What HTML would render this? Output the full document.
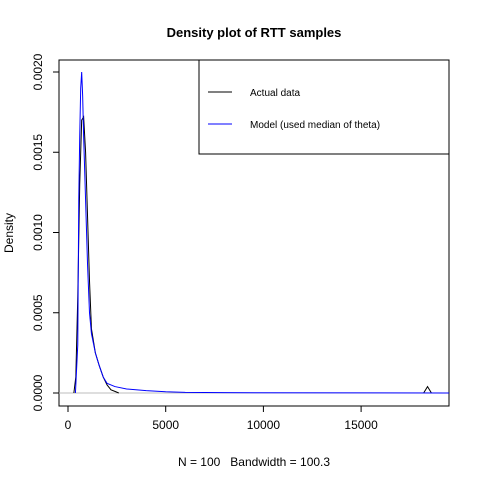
<!DOCTYPE html>
<html><head><meta charset="utf-8"><style>
body{margin:0;background:#fff}
svg{display:block;font-family:"Liberation Sans",Arial,sans-serif}
</style></head><body>
<svg id="chart" width="480" height="480" viewBox="0 0 480 480">
<text x="254" y="37" text-anchor="middle" font-size="13" font-weight="bold">Density plot of RTT samples</text>
<rect x="59" y="60" width="390" height="346" fill="none" stroke="#000"/>
<g id="xaxis"></g>
<g id="yaxis"></g>
<line x1="59" x2="449" id="zero" stroke="#bebebe"/>
<g id="series"></g>
<text x="254" y="466" text-anchor="middle" font-size="12" style="white-space:pre">N = 100   Bandwidth = 100.3</text>
<text transform="translate(13,233) rotate(-90)" text-anchor="middle" font-size="12">Density</text>
<g>
<rect x="199" y="60" width="250" height="94" fill="#fff" stroke="#000"/>
<line x1="208" x2="232" y1="92" y2="92" stroke="#000"/>
<text x="250" y="96" font-size="10">Actual data</text>
<line x1="208" x2="232" y1="124" y2="124" stroke="#00f"/>
<text x="250" y="128" font-size="10">Model (used median of theta)</text>
</g>
</svg>
<script>
const xTicks=[0,5000,10000,15000];
const xTickLabels=["0","5000","10000","15000"];
const yTicks=[0,0.0005,0.001,0.0015,0.002];
const yTickLabels=["0.0000","0.0005","0.0010","0.0015","0.0020"];
const actualX=[300,400,500,600,700,800,900,1000,1100,1200,1400,1600,1800,2000,2200,2400,2600,18200,18400,18600];
const actualY=[0,0.0001,0.0006,0.0013,0.0017,0.00172,0.0015,0.0011,0.0007,0.0004,0.00025,0.00017,0.0001,0.00005,0.00002,0.00001,0,0,0.00004,0];
const modelX=[380,500,550,600,650,700,750,800,900,1000,1100,1200,1400,1600,1800,2000,2400,3000,4000,5000,6000,8000,19500];
const modelY=[0,0.0003,0.0012,0.0016,0.0019,0.002,0.00185,0.0016,0.0012,0.0008,0.0005,0.00037,0.00025,0.00017,0.0001,0.00006,0.00004,0.000025,0.000015,0.000008,0.000004,0.000002,0];
const NS="http://www.w3.org/2000/svg";
const sx=v=>68+v*0.01954;
const sy=v=>393-v*160500;
function mk(t,a,p){const e=document.createElementNS(NS,t);for(const k in a)e.setAttribute(k,a[k]);p.appendChild(e);return e;}
const xa=document.getElementById('xaxis'),ya=document.getElementById('yaxis');
mk('line',{x1:sx(xTicks[0]),x2:sx(xTicks[xTicks.length-1]),y1:406,y2:406,stroke:'#000'},xa);
xTicks.forEach((v,i)=>{
 const t=mk('line',{x1:sx(v),x2:sx(v),y1:406,y2:412,stroke:'#000'},xa);
 
 
 const l=mk('text',{x:sx(v),y:429,'text-anchor':'middle','font-size':12},xa);l.textContent=xTickLabels[i];
 
 
});
mk('line',{x1:59,x2:59,y1:sy(yTicks[0]),y2:sy(yTicks[yTicks.length-1]),stroke:'#000'},ya);
yTicks.forEach((v,i)=>{
 const t=mk('line',{x1:53,x2:59,y1:sy(v),y2:sy(v),stroke:'#000'},ya);
 
 
 const l=mk('text',{transform:`translate(42,${sy(v)}) rotate(-90)`,'text-anchor':'middle','font-size':12},ya);l.textContent=yTickLabels[i];
 
 
});
const z=document.getElementById('zero');z.setAttribute('y1',sy(0));z.setAttribute('y2',sy(0));
const sg=document.getElementById('series');
function line(xs,ys,c,name){
 const p=mk('polyline',{points:xs.map((x,i)=>sx(x)+','+sy(ys[i])).join(' '),fill:'none',stroke:c,'stroke-width':1},sg);
 
 
}
line(actualX.slice(0,17),actualY.slice(0,17),'#000','actual-data-line');
line(actualX.slice(17),actualY.slice(17),'#000','actual-data-line-outlier');
line(modelX,modelY,'#00f','model-line');
</script>
</body></html>
